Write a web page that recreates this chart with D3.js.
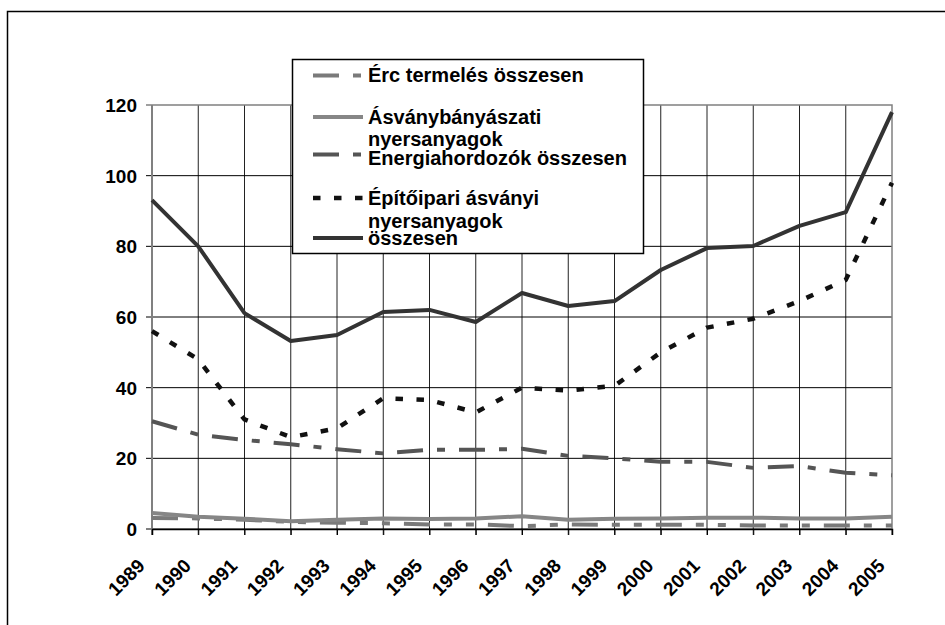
<!DOCTYPE html>
<html>
<head>
<meta charset="utf-8">
<script src="https://cdn.jsdelivr.net/npm/d3@7"></script>
<style>
  html, body { margin: 0; padding: 0; background: #fff; }
  svg { display: block; font-family: "Liberation Sans", Arial, sans-serif; font-weight: bold; }
</style>
</head>
<body>
<svg id="chart" width="945" height="625"></svg>
<script>
// ---- data ----
const years = [1989,1990,1991,1992,1993,1994,1995,1996,1997,1998,1999,2000,2001,2002,2003,2004,2005];
const yTicks = [0,20,40,60,80,100,120];
const seriesNames = [
  "Érc termelés összesen",
  "Ásványbányászati nyersanyagok",
  "Energiahordozók összesen",
  "Építőipari ásványi nyersanyagok",
  "összesen"
];
const ercValues      = [3.1,3.0,2.6,2.0,1.8,1.6,1.3,1.3,0.8,1.3,1.2,1.2,1.2,1.0,1.0,1.0,1.0];
const asvanyValues   = [4.5,3.5,2.9,2.2,2.6,3.0,2.8,3.0,3.6,2.6,2.9,3.0,3.2,3.2,3.0,3.0,3.5];
const energiaValues  = [30.5,26.7,25.2,24.0,22.6,21.4,22.4,22.4,22.7,20.7,20.0,19.0,19.0,17.3,17.8,15.9,15.2];
const epitoValues    = [56.0,48.0,31.0,26.0,28.5,37.0,36.5,33.0,40.0,39.2,40.5,50.0,57.0,59.5,64.5,70.5,98.0];
const osszesenValues = [93.1,80.0,61.1,53.2,54.9,61.4,62.0,58.6,66.8,63.1,64.5,73.3,79.5,80.1,85.8,89.7,118.0];

// ---- styles ----
const seriesValues = [ercValues, asvanyValues, energiaValues, epitoValues, osszesenValues];
const seriesColors = ["#7a7a7a", "#868686", "#555555", "#111111", "#333333"];
const seriesDash   = ["26,14,8,14,8,14", null, "26,14,8,14", "7.5,13.5", null];
const seriesWidth  = [4, 4, 4, 4.5, 4];
const legendLines  = [["Érc termelés összesen"], ["Ásványbányászati", "nyersanyagok"], ["Energiahordozók összesen"], ["Építőipari ásványi", "nyersanyagok"], ["összesen"]];

const svg = d3.select("#chart");
const L = 152, R = 892, T = 105, B = 529;

const x = d3.scaleLinear().domain([1989, 2005]).range([L, R]);
const y = d3.scaleLinear().domain([0, 120]).range([B, T]);

// outer border (open at right/bottom)
svg.append("path")
  .attr("d", `M7.5,625 V11.5 H945`)
  .attr("fill", "none").attr("stroke", "#000").attr("stroke-width", 1.5);

// vertical gridlines
svg.append("g").selectAll("line").data(years.slice(1, -1)).join("line")
  .attr("x1", d => x(d)).attr("x2", d => x(d))
  .attr("y1", T).attr("y2", B + 6)
  .attr("stroke", "#222").attr("stroke-width", 1);

// horizontal gridlines + y ticks
svg.append("g").selectAll("line").data(yTicks.slice(0, -1)).join("line")
  .attr("x1", L - 6).attr("x2", R)
  .attr("y1", d => y(d)).attr("y2", d => y(d))
  .attr("stroke", "#000").attr("stroke-width", 1);

// plot border top/right (gray)
svg.append("path")
  .attr("d", `M${L - 6},${y(120)} H${R} V${B + 6}`)
  .attr("fill", "none").attr("stroke", "#808080").attr("stroke-width", 1.5);

// left axis (gray)
svg.append("line")
  .attr("x1", L).attr("x2", L).attr("y1", T).attr("y2", B + 6)
  .attr("stroke", "#808080").attr("stroke-width", 2);

// x axis
const xAxis = d3.axisBottom(x).tickValues(years).tickSize(6).tickFormat("");
const gx = svg.append("g").attr("transform", `translate(0,${B})`).call(xAxis);
gx.select(".domain").attr("stroke", "#000").attr("stroke-width", 1.5);
gx.selectAll(".tick line").attr("stroke", "#000");

// y labels
svg.append("g").selectAll("text").data(yTicks).join("text")
  .attr("x", 137).attr("y", d => y(d)).attr("dy", "0.36em")
  .attr("text-anchor", "end").attr("font-size", 19).attr("fill", "#000")
  .text(d => d);

// x labels
svg.append("g").selectAll("text").data(years).join("text")
  .attr("transform", d => `translate(${x(d) - 6},${B + 38}) rotate(-45)`)
  .attr("text-anchor", "end").attr("font-size", 19).attr("fill", "#000")
  .text(d => d);

// series
const line = d3.line().x((d, i) => x(years[i])).y(d => y(d));
seriesValues.forEach((vals, i) => {
  svg.append("path")
    .attr("d", line(vals))
    .attr("fill", "none")
    .attr("stroke", seriesColors[i])
    .attr("stroke-width", seriesWidth[i])
    .attr("stroke-dasharray", seriesDash[i])
    .attr("stroke-linejoin", "round");
});

// legend
const lg = svg.append("g");
lg.append("rect").attr("x", 292.5).attr("y", 59.5).attr("width", 351).attr("height", 194)
  .attr("fill", "#fff").attr("stroke", "#000").attr("stroke-width", 1.5);
const legendLineY = [75.5, 117, 154.5, 198, 238];
const legendTextY = [[82], [124, 145.5], [164.5], [204.5, 228], [245]];
seriesNames.forEach((name, i) => {
  lg.append("line")
    .attr("x1", 313).attr("x2", 363)
    .attr("y1", legendLineY[i]).attr("y2", legendLineY[i])
    .attr("stroke", seriesColors[i]).attr("stroke-width", seriesWidth[i])
    .attr("stroke-dasharray", seriesDash[i]);
  legendLines[i].forEach((t, j) => {
    lg.append("text").attr("x", 368).attr("y", legendTextY[i][j])
      .attr("font-size", 20).attr("fill", "#000").text(t);
  });
});
</script>
</body>
</html>
